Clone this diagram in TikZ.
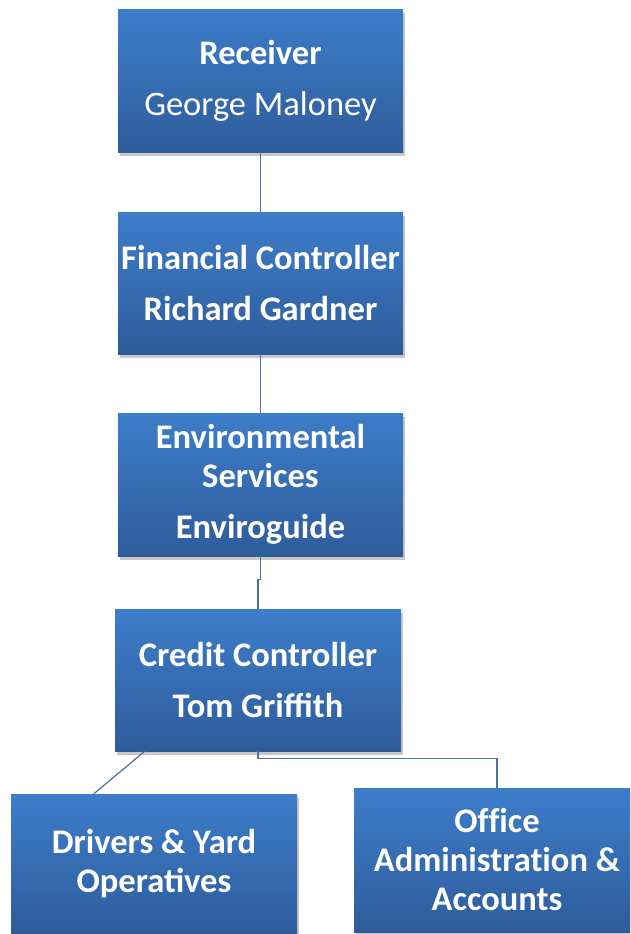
\documentclass[tikz,border=0pt]{standalone}
\usepackage{fontspec}
\setmainfont{Carlito}
\newfontfamily\noliga{Carlito}[RawFeature=-liga]
\usetikzlibrary{shadows,calc}
\definecolor{boxtop}{RGB}{61,125,202}
\definecolor{boxbot}{RGB}{46,92,155}
\definecolor{linkc}{RGB}{74,112,165}
\begin{document}
\begin{tikzpicture}[x=1pt,y=-1pt,
  orgbox/.style={rectangle, minimum width=285pt, minimum height=142pt, inner sep=0pt,
    top color=boxtop, bottom color=boxbot, text=white, align=center,
    font=\fontsize{34.5}{39}\selectfont\bfseries,
    drop shadow={shadow xshift=1.5pt, shadow yshift=-3.5pt, fill=black, opacity=0.22}},
  link/.style={draw=linkc, line width=1.2pt}]
\useasboundingbox (0,0) rectangle (630,934);
\clip (0,0) rectangle (630,934);
\fill[white] (0,0) rectangle (630,934);
\node[orgbox] (rec) at (260.5,81) {Receiver\\[12pt]\mdseries George Maloney};
\node[orgbox] (fin) at (260.5,283) {Financial Controller\\[12pt]Richard Gardner};
\node[orgbox, minimum height=143pt] (env) at (260.5,484.5) {Environmental\\Services\\[12pt]Enviroguide};
\node[orgbox, minimum width=286pt] (cred) at (258,680) {Credit Controller\\[12pt]Tom Griffith};
\node[orgbox, minimum width=286pt, minimum height=140pt] (drv) at (154,864) {Drivers \& Yard\\Operatives};
\node[orgbox, minimum width=286pt, minimum height=144pt,
  font=\fontsize{34.5}{39}\selectfont\noliga\bfseries] (off) at (497,860) {Office\\Administration \&\\Accounts};
\draw[link] (rec.south) -- (fin.north);
\draw[link] (fin.south) -- (env.south |- fin.south) -- (env.north);
\draw[link] (env.south) -- ++(0,23) -| (cred.north);
\draw[link] ($(cred.south west)+(30,0)$) -- ($(drv.north west)+(83,0)$);
\draw[link] (cred.south) -- ++(0,7) -| (off.north);
\end{tikzpicture}
\end{document}
